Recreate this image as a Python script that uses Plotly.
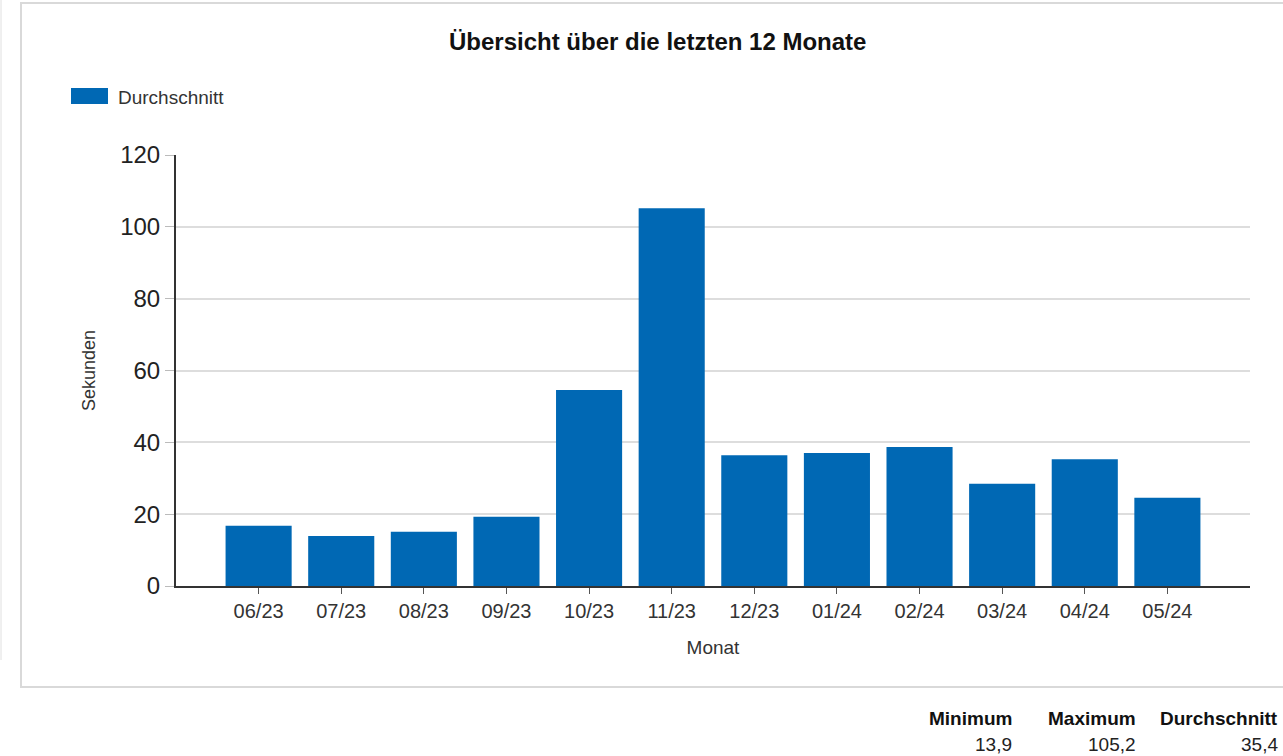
import plotly.graph_objects as go

months = ['06/23', '07/23', '08/23', '09/23', '10/23', '11/23',
          '12/23', '01/24', '02/24', '03/24', '04/24', '05/24']
avg_seconds = [16.8, 13.9, 15.1, 19.3, 54.6, 105.2, 36.4, 37.0, 38.7, 28.5, 35.3, 24.6]
y_ticks = [0, 20, 40, 60, 80, 100, 120]

BAR_COLOR = '#0068b4'
FONT = 'Liberation Sans, Arial, sans-serif'

# plot area in pixels
W, H = 1283, 756
L, R, T, B = 176, 1250, 155, 586


def px(x):
    return (x - L) / (R - L)


def py(y):
    return (B - y) / (B - T)


def de_num(v):
    return f"{v:.1f}".replace('.', ',')


fig = go.Figure()
fig.add_trace(go.Bar(
    x=months,
    y=avg_seconds,
    name='Durchschnitt',
    marker=dict(color=BAR_COLOR, line=dict(width=0)),
    width=0.8,
    showlegend=False,
))

fig.update_layout(
    width=W,
    height=H,
    margin=dict(l=L, r=W - R, t=T, b=H - B),
    paper_bgcolor='white',
    plot_bgcolor='white',
    font=dict(family=FONT, color='#333333'),
    bargap=0.2,
)

fig.update_xaxes(
    type='category',
    range=[-1, 12],
    showgrid=False,
    showline=True,
    linecolor='#333333',
    linewidth=2,
    ticks='outside',
    ticklen=6,
    tickcolor='#555555',
    tickfont=dict(size=20, color='#333333'),
    title=dict(text='Monat', font=dict(size=19, color='#333333'), standoff=20),
    zeroline=False,
)

fig.update_yaxes(
    range=[0, 120],
    tickvals=y_ticks,
    showgrid=True,
    gridcolor='#dddddd',
    gridwidth=2,
    showline=True,
    linecolor='#333333',
    linewidth=2,
    ticks='outside',
    ticklen=9,
    tickcolor='#bbbbbb',
    tickfont=dict(size=24, color='#222222'),
    title=dict(text='Sekunden', font=dict(size=18, color='#333333'), standoff=20),
    zeroline=False,
)

shapes = [
    # chart frame
    dict(type='rect', xref='paper', yref='paper',
         x0=px(21), x1=px(1300), y0=py(687), y1=py(3),
         line=dict(color='#d9d9d9', width=2), layer='below'),
    # faint line on the far left
    dict(type='line', xref='paper', yref='paper',
         x0=px(1), x1=px(1), y0=py(660), y1=py(0),
         line=dict(color='#e0e0e0', width=1)),
    # legend swatch
    dict(type='rect', xref='paper', yref='paper',
         x0=px(71), x1=px(108), y0=py(104), y1=py(88),
         fillcolor=BAR_COLOR, line=dict(width=0)),
]

annotations = [
    dict(text='<b>Übersicht über die letzten 12 Monate</b>', xref='paper', yref='paper',
         x=px(657), y=py(41), xanchor='center', yanchor='middle', showarrow=False,
         font=dict(size=24, color='#111111')),
    dict(text='Durchschnitt', xref='paper', yref='paper',
         x=px(116), y=py(97), xanchor='left', yanchor='middle', showarrow=False,
         font=dict(size=19, color='#333333')),
]

# summary table below the chart
summary = [
    ('Minimum', min(avg_seconds), 1014),
    ('Maximum', max(avg_seconds), 1138),
    ('Durchschnitt', sum(avg_seconds) / len(avg_seconds), 1280),
]
for label, value, right in summary:
    annotations.append(dict(text=f'<b>{label}</b>', xref='paper', yref='paper',
                            x=px(right), y=py(718), xanchor='right', yanchor='middle',
                            showarrow=False, font=dict(size=19, color='#111111')))
    annotations.append(dict(text=de_num(value), xref='paper', yref='paper',
                            x=px(right), y=py(744), xanchor='right', yanchor='middle',
                            showarrow=False, font=dict(size=19, color='#222222')))

fig.update_layout(shapes=shapes, annotations=annotations)

# drop the page's default body margin so the figure sits at the top-left corner
fig.write_html("out.html", config={'displayModeBar': False},
               post_script="document.body.style.margin='0';")
